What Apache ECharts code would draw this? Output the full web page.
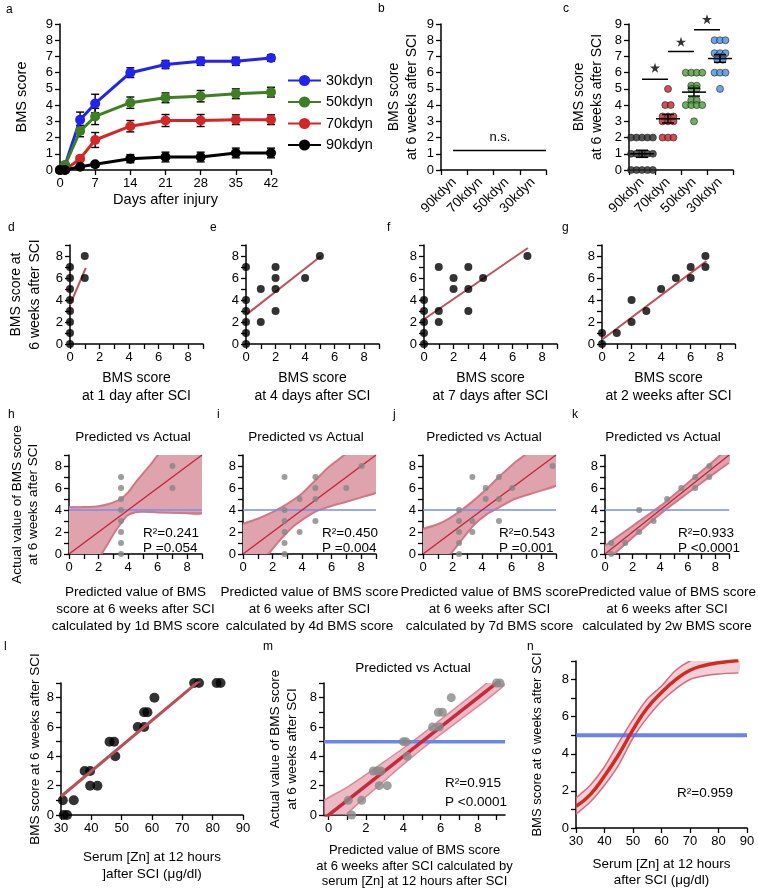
<!DOCTYPE html>
<html lang="en">
<head>
<meta charset="UTF-8">
<title>BMS score after SCI</title>
<script src="https://cdn.jsdelivr.net/npm/echarts@6/dist/echarts.min.js"></script>
<style>html,body{margin:0;padding:0;background:#fff;}</style>
</head>
<body>
<div id="main" style="width:758px;height:892px;"></div>
<script>
var FONT = "'Liberation Sans', Arial, Helvetica, sans-serif";

// ---- a: time course
var days = [0, 1, 4, 7, 14, 21, 28, 35, 42];
var forces = ['30kdyn', '50kdyn', '70kdyn', '90kdyn'];
var forceColors = ['#2323f0', '#3d7f21', '#d42626', '#000000'];
var bms30 = [0, 0.3, 3.1, 4.1, 6.0, 6.5, 6.7, 6.7, 6.9];
var bms50 = [0, 0.3, 2.4, 3.3, 4.15, 4.45, 4.55, 4.7, 4.8];
var bms70 = [0, 0, 0.7, 1.85, 2.7, 3.05, 3.05, 3.1, 3.1];
var bms90 = [0, 0, 0.2, 0.35, 0.7, 0.8, 0.8, 1.05, 1.05];
var sem30 = [0, 0.1, 0.47, 0.57, 0.3, 0.25, 0.25, 0.25, 0.2];
var sem50 = [0, 0.1, 0.35, 0.5, 0.35, 0.3, 0.35, 0.3, 0.3];
var sem70 = [0, 0, 0.15, 0.46, 0.35, 0.37, 0.37, 0.3, 0.3];
var sem90 = [0, 0, 0.1, 0.15, 0.25, 0.3, 0.3, 0.3, 0.3];

// ---- b / c: 6 week scores
var impacts = ['90kdyn', '70kdyn', '50kdyn', '30kdyn'];
var nsLine = [[0.46, 1.2], [4, 1.2]];
var wk6_90 = [2, 2, 2, 2, 2, 1, 1, 1, 1, 1, 0, 0, 0, 0, 0];
var wk6_70 = [5, 4, 4, 3.3, 3.3, 3.3, 3, 3, 3, 2, 2, 2];
var wk6_50 = [6, 6, 6, 6, 5.2, 5.2, 5, 5, 4.3, 4.3, 4, 4, 4, 4, 3];
var wk6_30 = [8, 8, 8, 7.2, 7.2, 7.2, 7, 7, 6.8, 6.8, 6, 6, 6, 5];
var dotColors = ['#2b2b2b', '#c4222c', '#4c9a3a', '#4a8fdd'];
var sigLevels = [5.6, 7.3, 8.65];
var starLevels = [6.3, 7.9, 9.3];

// ---- d-g: early score vs 6 week score
var d1X = [0, 0, 0, 0, 0, 0, 0, 0, 1, 1];
var d1Y = [7, 6, 5, 4, 3, 2, 1, 0, 8, 6];
var d4X = [0, 0, 0, 0, 0, 0, 1, 1, 2, 2, 2, 2, 4, 5];
var d4Y = [7, 4, 3, 2, 1, 0, 5, 2, 7, 6, 5, 3, 6, 8];
var d7X = [0, 0, 0, 0, 0, 1, 1, 1, 2, 2, 3, 3, 3, 4, 7];
var d7Y = [4, 3, 2, 1, 0, 7, 3, 2, 6, 5, 7, 5, 3, 6, 8];
var w2X = [0, 0, 1, 2, 2, 3, 4, 5, 6, 6, 7, 7];
var w2Y = [1, 0, 1, 4, 2, 3, 5, 6, 7, 6, 8, 7];
var fit1d = [[0, 3.55], [1.07, 6.93]];
var fit4d = [[0, 2.65], [5.06, 7.98]];
var fit7d = [[0, 2.25], [7.03, 8.73]];
var fit2w = [[0, 0.39], [7.07, 7.53]];

// ---- h-k: predicted vs actual
var p1dX = [3.52, 3.52, 3.52, 3.52, 3.52, 3.52, 3.52, 3.52, 7.0, 7.0];
var p1dY = [7, 6, 5, 4, 3, 2, 1, 0, 8, 6];
var p4dX = [2.81, 2.81, 2.81, 2.81, 2.81, 2.81, 3.83, 3.83, 4.9, 4.9, 4.9, 4.9, 6.99, 8.03];
var p4dY = [7, 4, 3, 2, 1, 0, 5, 2, 7, 6, 5, 3, 6, 8];
var p7dX = [2.44, 2.44, 2.44, 2.44, 2.44, 3.34, 3.34, 3.34, 4.24, 4.24, 5.14, 5.14, 5.14, 6.04, 8.77];
var p7dY = [4, 3, 2, 1, 0, 7, 3, 2, 6, 5, 7, 5, 3, 6, 8];
var p2wX = [0.45, 0.45, 1.47, 2.48, 2.48, 3.52, 4.5, 5.53, 6.54, 6.54, 7.56, 7.56];
var p2wY = [1, 0, 1, 4, 2, 3, 5, 6, 7, 6, 8, 7];
var band1dUp = [[0, 4.24], [1, 4.27], [2, 4.35], [2.7, 4.55], [3.2, 4.8], [3.5, 5.0], [4, 5.6], [4.5, 6.5], [5, 7.3], [5.5, 8.1], [6.1, 9.15], [7, 10.6], [9, 13.5]];
var band1dLo = [[0, -4], [1, -2.3], [2.2, 0], [2.7, 1.1], [3.1, 2.0], [3.5, 2.75], [3.95, 3.5], [4.5, 3.8], [5, 3.85], [6, 3.78], [7.5, 3.72], [9, 3.7]];
var band4dUp = [[0, 2.73], [1, 3.2], [2, 3.8], [2.8, 4.4], [3.5, 5.0], [4, 5.5], [4.9, 6.7], [5.8, 7.9], [7, 9.15], [8, 10.4], [9, 11.6]];
var band4dLo = [[0, -1.7], [1, -0.75], [1.7, 0], [2.3, 0.95], [2.8, 1.7], [3.4, 2.5], [4, 3.1], [4.9, 3.85], [5.8, 4.3], [7, 4.75], [8, 5.15], [9, 5.55]];
var band7dUp = [[0, 2.27], [1, 2.7], [1.7, 3.17], [2.4, 3.78], [3.4, 4.83], [4.3, 5.9], [5.1, 6.95], [6.2, 8.3], [7.1, 9.2], [8, 10.3], [9, 11.4]];
var band7dLo = [[0, -1.9], [1, -0.9], [1.85, 0], [2.4, 0.9], [3.4, 2.57], [4.3, 3.6], [5.1, 4.2], [6.2, 5.0], [7.6, 5.6], [9, 6.2]];
var band2wUp = [[0, 0.75], [2, 2.55], [4, 4.35], [6, 6.45], [8, 8.6], [9, 9.7]];
var band2wLo = [[0, -0.75], [2, 1.5], [4, 3.65], [6, 5.55], [8, 7.4], [9, 8.3]];
var identity = [[0, 0], [9, 9]];
var meanLine4 = [[0, 4], [9, 4]];
var r2Texts = ['0.241', '0.450', '0.543', '0.933'];
var pTexts = ['=0.054', '=0.004', '=0.001', '<0.0001'];

// ---- l-n: serum zinc
var znX = [30.6, 34.2, 30.9, 32.0, 37.8, 39.6, 39.6, 42.0, 46.0, 47.5, 47.9, 55.3, 57.4, 57.4, 58.5, 60.8, 73.9, 75.5, 81.3, 82.6];
var znY = [1, 1, 0, 0, 3, 3, 2, 2, 5, 5, 4, 6, 6, 7, 7, 8, 9, 9, 9, 9];
var znFit = [[30, 1.26], [76.5, 9.3]];
var predZnX = [1.05, 1.23, 1.77, 2.39, 2.6, 2.8, 2.71, 3.14, 4.0, 4.14, 4.21, 5.57, 5.88, 6.1, 5.93, 6.57, 9.0, 9.18];
var predZnY = [1, 0, 1, 3, 3, 3, 2, 2, 5, 5, 4, 6, 7, 7, 6, 8, 9, 9];
var bandZnUp = [[-0.25, 1.0], [1, 1.9], [2, 2.75], [3, 3.65], [4, 4.55], [5, 5.5], [6, 6.5], [7, 7.5], [8, 8.5], [9, 9.55], [9.45, 10.0]];
var bandZnLo = [[-0.25, -1.5], [1, 0.1], [2, 1.25], [3, 2.35], [4, 3.45], [5, 4.5], [6, 5.5], [7, 6.45], [8, 7.4], [9, 8.4], [9.45, 8.9]];
var identityZn = [[-0.25, -0.25], [9.45, 9.45]];
var meanLine5 = [[-0.25, 5], [9.45, 5]];
var sigmoidMid = [[30, 1.17], [35, 1.8], [40, 2.8], [45, 3.96], [50, 5.3], [55, 6.47], [60, 7.3], [65, 8.0], [70, 8.5], [75, 8.76], [80, 8.9], [87, 9.03]];
var sigmoidUp = [[30, 1.62], [35, 2.3], [40, 3.3], [45, 4.6], [50, 5.85], [55, 6.95], [60, 7.65], [65, 8.5], [70, 9.0], [75, 9.25], [80, 9.35], [87, 9.4]];
var sigmoidLo = [[30, 0.75], [35, 1.4], [40, 2.3], [45, 3.4], [50, 4.85], [55, 5.95], [60, 6.83], [65, 7.5], [70, 8.0], [75, 8.2], [80, 8.3], [87, 8.36]];
var znMeanLine = [[30, 5], [90, 5]];

function zip(xs, ys) { return xs.map(function (x, i) { return [x, ys[i]]; }); }
function evenOnly(v) { return v % 2 === 0 ? String(v) : ''; }

function valAxis(gi, min, max, step, o) {
  o = o || {};
  return {
    type: 'value', gridIndex: gi, min: min, max: max, interval: step,
    show: o.show !== false,
    name: o.name || '', nameLocation: 'middle', nameGap: o.gap || 20,
    nameTextStyle: { fontSize: o.nameSize || 13.5, lineHeight: o.lh || 16, color: '#000', fontFamily: FONT },
    axisLine: { show: true, onZero: false, lineStyle: { color: '#000', width: 1.5 } },
    axisTick: { show: true, length: 5, lineStyle: { color: '#000', width: 1.3 }, customValues: o.ticks },
    axisLabel: { color: '#000', fontSize: 13, fontFamily: FONT, margin: 7, formatter: o.even ? evenOnly : null, customValues: o.labels },
    splitLine: { show: false }
  };
}
function catAxis(gi) {
  return {
    type: 'category', gridIndex: gi, data: impacts, boundaryGap: true,
    axisLine: { show: true, lineStyle: { color: '#000', width: 1.5 } },
    axisTick: { show: true, length: 5, lineStyle: { color: '#000', width: 1.3 } },
    axisLabel: { color: '#000', fontSize: 13.5, fontFamily: FONT, rotate: 45, margin: 10, interval: 0 },
    splitLine: { show: false }
  };
}

var grids = [
  { left: 60, top: 24, width: 211, height: 146 },
  { left: 441, top: 24, width: 105, height: 146 },
  { left: 629, top: 24, width: 104, height: 146 },
  { left: 70, top: 245, width: 133, height: 99 },
  { left: 246, top: 245, width: 133, height: 99 },
  { left: 424, top: 245, width: 133, height: 99 },
  { left: 602, top: 245, width: 133, height: 99 },
  { left: 69, top: 455, width: 133, height: 99 },
  { left: 243, top: 455, width: 133, height: 99 },
  { left: 423, top: 455, width: 133, height: 99 },
  { left: 605, top: 455, width: 133, height: 99 },
  { left: 61, top: 683, width: 182, height: 132 },
  { left: 324, top: 683, width: 181, height: 132 },
  { left: 576, top: 661, width: 171, height: 167 }
];

var dgNames = ['BMS score\nat 1 day after SCI', 'BMS score\nat 4 days after SCI', 'BMS score\nat 7 days after SCI', 'BMS score\nat 2 weeks after SCI'];
var hkNames = [
  'Predicted value of BMS\nscore at 6 weeks after SCI\ncalculated by 1d BMS score',
  'Predicted value of BMS score\nat 6 weeks after SCI\ncalculated by 4d BMS score',
  'Predicted value of BMS score\nat 6 weeks after SCI\ncalculated by 7d BMS score',
  'Predicted value of BMS score\nat 6 weeks after SCI\ncalculated by 2w BMS score'
];

var xAxes = [
  valAxis(0, 0, 42, 7, { name: 'Days after injury', gap: 22, nameSize: 14.5 }),
  catAxis(1),
  catAxis(2)
];
var yAxes = [
  valAxis(0, 0, 9, 1, { name: 'BMS score', gap: 30, nameSize: 14.5 }),
  valAxis(1, 0, 9, 1, { name: 'BMS score\nat 6 weeks after SCI', gap: 20, lh: 18, nameSize: 14 }),
  valAxis(2, 0, 9, 1, { name: 'BMS score\nat 6 weeks after SCI', gap: 23, lh: 18, nameSize: 14 })
];
for (var q = 0; q < 4; q++) {
  xAxes.push(valAxis(3 + q, 0, 9, 1, { even: true, name: dgNames[q], gap: 25, lh: 18, nameSize: 14 }));
  yAxes.push(valAxis(3 + q, 0, 9, 1, { even: true, name: q === 0 ? 'BMS score at\n6 weeks after SCI' : '', gap: 25, lh: 19, nameSize: 14 }));
}
for (q = 0; q < 4; q++) {
  xAxes.push(valAxis(7 + q, 0, 9, 1, { even: true, name: hkNames[q], gap: 30, lh: 17 }));
  yAxes.push(valAxis(7 + q, 0, 9, 1, { even: true, name: q === 0 ? 'Actual value of BMS score\nat 6 weeks after SCI' : '', gap: 28, lh: 16 }));
}
xAxes.push(valAxis(11, 30, 90, 10, { name: 'Serum [Zn] at 12 hours\n]after SCI (\u03bcg/dl)', gap: 34, lh: 17 }));
yAxes.push(valAxis(11, 0, 9, 1, { even: true, name: 'BMS score at 6 weeks after SCI', gap: 18 }));
xAxes.push(valAxis(12, -0.25, 9.45, null, { ticks: [0, 1, 2, 3, 4, 5, 6, 7, 8, 9], labels: [0, 2, 4, 6, 8], name: 'Predicted value of BMS score\nat 6 weeks after SCI calculated by\nserum [Zn] at 12 hours after SCI', gap: 28, lh: 15.5, nameSize: 13 }));
yAxes.push(valAxis(12, 0, 9, 1, { even: true, name: 'Actual value of BMS score\nat 6 weeks after SCI', gap: 23, lh: 17 }));
xAxes.push(valAxis(13, 30, 90, 10, { name: 'Serum [Zn] at 12 hours\nafter SCI (\u03bcg/dl)', gap: 29, lh: 15.5 }));
yAxes.push(valAxis(13, 0, 9, 1, { even: true, name: 'BMS score at 6 weeks after SCI', gap: 31, nameSize: 13 }));
// hidden value axes for b (14) and c (15)
xAxes.push(valAxis(1, 0, 4, 1, { show: false }));
xAxes.push(valAxis(2, -0.5, 3.5, 1, { show: false }));

var series = [];

// a
var aMeans = [bms30, bms50, bms70, bms90];
var aSems = [sem30, sem50, sem70, sem90];
function errorBars(gi, xs, ys, es) {
  return {
    type: 'custom', xAxisIndex: gi, yAxisIndex: gi, silent: true, z: 1,
    data: xs.map(function (x, i) { return [x, ys[i], es[i]]; }),
    renderItem: function (params, api) {
      var x = api.value(0), y = api.value(1), e = api.value(2);
      if (!e) return { type: 'group', children: [] };
      var t = api.coord([x, y + e]), b = api.coord([x, y - e]);
      var st = { stroke: '#000', lineWidth: 1.4 };
      return { type: 'group', children: [
        { type: 'line', shape: { x1: t[0], y1: t[1], x2: b[0], y2: b[1] }, style: st },
        { type: 'line', shape: { x1: t[0] - 4, y1: t[1], x2: t[0] + 4, y2: t[1] }, style: st },
        { type: 'line', shape: { x1: b[0] - 4, y1: b[1], x2: b[0] + 4, y2: b[1] }, style: st }
      ] };
    }
  };
}
for (q = 0; q < 4; q++) {
  series.push(errorBars(0, days, aMeans[q], aSems[q]));
}
for (q = 0; q < 4; q++) {
  series.push({
    name: forces[q], type: 'line', xAxisIndex: 0, yAxisIndex: 0, z: 3,
    data: zip(days, aMeans[q]), symbol: 'circle', symbolSize: 10,
    itemStyle: { color: forceColors[q] }, lineStyle: { color: forceColors[q], width: 3 }
  });
}

// b
series.push({ type: 'line', xAxisIndex: 14, yAxisIndex: 1, data: nsLine, symbol: 'none', lineStyle: { color: '#000', width: 1.5 } });

// c
function swarm(values, center, step) {
  var counts = {}, seen = {};
  values.forEach(function (v) { counts[v] = (counts[v] || 0) + 1; });
  return values.map(function (v) {
    var k = seen[v] || 0; seen[v] = k + 1;
    return [center + (k - (counts[v] - 1) / 2) * step, v];
  });
}
var cGroups = [wk6_90, wk6_70, wk6_50, wk6_30];
var cStats = cGroups.map(function (v, i) {
  var n = v.length, m = v.reduce(function (a, b) { return a + b; }, 0) / n;
  var sd = Math.sqrt(v.reduce(function (a, b) { return a + (b - m) * (b - m); }, 0) / (n - 1));
  return [i, m, sd / Math.sqrt(n)];
});
cGroups.forEach(function (v, i) {
  series.push({
    type: 'scatter', xAxisIndex: 15, yAxisIndex: 2, z: 2, data: swarm(v, i, 0.21), symbolSize: 7,
    itemStyle: { color: dotColors[i], borderColor: '#1a1a1a', borderWidth: 0.7 }
  });
});
series.push({
  type: 'custom', xAxisIndex: 15, yAxisIndex: 2, z: 5, silent: true, data: cStats,
  renderItem: function (params, api) {
    var c = api.coord([api.value(0), api.value(1)]);
    var t = api.coord([api.value(0), api.value(1) + api.value(2)]);
    var b = api.coord([api.value(0), api.value(1) - api.value(2)]);
    var st = { stroke: '#000', lineWidth: 1.5 };
    return { type: 'group', children: [
      { type: 'line', shape: { x1: c[0] - 12, y1: c[1], x2: c[0] + 12, y2: c[1] }, style: st },
      { type: 'line', shape: { x1: t[0], y1: t[1], x2: b[0], y2: b[1] }, style: st },
      { type: 'line', shape: { x1: t[0] - 6, y1: t[1], x2: t[0] + 6, y2: t[1] }, style: st },
      { type: 'line', shape: { x1: b[0] - 6, y1: b[1], x2: b[0] + 6, y2: b[1] }, style: st }
    ] };
  }
});
sigLevels.forEach(function (s, i) {
  series.push({ type: 'line', xAxisIndex: 15, yAxisIndex: 2, data: [[i, s], [i + 1, s]], symbol: 'none', lineStyle: { color: '#000', width: 1.5 } });
});
series.push({
  type: 'scatter', xAxisIndex: 15, yAxisIndex: 2, clip: false, symbolSize: 10,
  symbol: 'path://M12,0L14.9,8.6L24,8.6L16.7,14L19.4,22.7L12,17.3L4.6,22.7L7.3,14L0,8.6L9.1,8.6Z',
  data: starLevels.map(function (s, i) { return [i + 0.5, s]; }), itemStyle: { color: '#000' }
});

// d-g
var dgX = [d1X, d4X, d7X, w2X], dgY = [d1Y, d4Y, d7Y, w2Y], dgFit = [fit1d, fit4d, fit7d, fit2w];
for (q = 0; q < 4; q++) {
  series.push({ type: 'line', xAxisIndex: 3 + q, yAxisIndex: 3 + q, data: dgFit[q], symbol: 'none', z: 2, lineStyle: { color: '#c0505c', width: 2 } });
  series.push({ type: 'scatter', xAxisIndex: 3 + q, yAxisIndex: 3 + q, data: zip(dgX[q], dgY[q]), symbolSize: 8, clip: false, z: 3, itemStyle: { color: '#000' } });
}

// bands
function bandSeries(gi, up, lo, fill, edge, edgeW) {
  return {
    type: 'custom', xAxisIndex: gi, yAxisIndex: gi, clip: true, silent: true, z: 1,
    data: [up[0]],
    renderItem: function (params, api) {
      var u = up.map(function (p) { return api.coord(p); });
      var l = lo.map(function (p) { return api.coord(p); });
      var poly = u.concat(l.slice().reverse());
      return { type: 'group', children: [
        { type: 'polygon', shape: { points: poly, smooth: 0.25 }, style: { fill: fill } },
        { type: 'polyline', shape: { points: u, smooth: 0.25 }, style: { stroke: edge, lineWidth: edgeW, fill: null } },
        { type: 'polyline', shape: { points: l, smooth: 0.25 }, style: { stroke: edge, lineWidth: edgeW, fill: null } }
      ] };
    }
  };
}

// h-k
var hkX = [p1dX, p4dX, p7dX, p2wX], hkY = [p1dY, p4dY, p7dY, p2wY];
var hkUp = [band1dUp, band4dUp, band7dUp, band2wUp], hkLo = [band1dLo, band4dLo, band7dLo, band2wLo];
for (q = 0; q < 4; q++) {
  var gi = 7 + q;
  series.push(bandSeries(gi, hkUp[q], hkLo[q], '#dfa3ae', '#d27786', 2));
  series.push({ type: 'line', xAxisIndex: gi, yAxisIndex: gi, data: meanLine4, symbol: 'none', z: 2, lineStyle: { color: '#6f8ff2', width: 1.5 } });
  series.push({ type: 'line', xAxisIndex: gi, yAxisIndex: gi, data: identity, symbol: 'none', z: 3, lineStyle: { color: '#c3283c', width: 1.5 } });
  series.push({ type: 'scatter', xAxisIndex: gi, yAxisIndex: gi, data: zip(hkX[q], hkY[q]), symbolSize: 6, clip: false, z: 4, itemStyle: { color: '#858585' } });
}

// l
series.push({ type: 'scatter', xAxisIndex: 11, yAxisIndex: 11, data: zip(znX, znY), symbolSize: 10, clip: false, z: 2, itemStyle: { color: '#000' } });
series.push({ type: 'line', xAxisIndex: 11, yAxisIndex: 11, data: znFit, symbol: 'none', z: 3, lineStyle: { color: '#b8505a', width: 3 } });

// m
series.push(bandSeries(12, bandZnUp, bandZnLo, 'rgba(222,140,158,0.6)', '#d98a9a', 1.5));
series.push({ type: 'line', xAxisIndex: 12, yAxisIndex: 12, data: meanLine5, symbol: 'none', z: 2, lineStyle: { color: '#6a88ea', width: 3.5 } });
series.push({ type: 'line', xAxisIndex: 12, yAxisIndex: 12, data: identityZn, symbol: 'none', z: 3, lineStyle: { color: '#c8283c', width: 3.5 } });
series.push({ type: 'scatter', xAxisIndex: 12, yAxisIndex: 12, data: zip(predZnX, predZnY), symbolSize: 9, clip: false, z: 4, itemStyle: { color: '#888888' } });

// n
series.push(bandSeries(13, sigmoidUp, sigmoidLo, 'rgba(232,170,185,0.55)', '#d66a7a', 1.5));
series.push({ type: 'line', xAxisIndex: 13, yAxisIndex: 13, data: znMeanLine, symbol: 'none', z: 2, lineStyle: { color: 'rgba(80,110,230,0.85)', width: 4 } });
series.push({ type: 'line', xAxisIndex: 13, yAxisIndex: 13, data: sigmoidMid, smooth: true, symbol: 'none', z: 3, lineStyle: { color: '#d42a1e', width: 3.5 } });

// texts
function txt(x, y, s, size, align) {
  return { type: 'text', x: x, y: y, silent: true,
    style: { text: s, fill: '#000', font: size + 'px ' + FONT, textAlign: align || 'left', align: align || 'left', textVerticalAlign: 'middle', verticalAlign: 'middle' } };
}
var texts = [
  txt(6, 10, 'a', 12), txt(378, 9, 'b', 12), txt(563, 9, 'c', 12),
  txt(8, 228, 'd', 12), txt(210, 228, 'e', 12), txt(387, 228, 'f', 12), txt(562, 228, 'g', 12),
  txt(8, 415, 'h', 12), txt(217, 415, 'i', 12), txt(393, 415, 'j', 12), txt(572, 415, 'k', 12),
  txt(4, 647, 'l', 12), txt(263, 647, 'm', 12), txt(527, 647, 'n', 12),
  txt(500, 137, 'n.s.', 13, 'center')
];
var titleX = [133, 306, 484, 663];
var statX = [143, 322, 499, 678];
for (q = 0; q < 4; q++) {
  texts.push(txt(titleX[q], 437, 'Predicted vs Actual', 13.5, 'center'));
  texts.push(txt(statX[q], 533, 'R\u00b2=' + r2Texts[q], 13.5));
  texts.push(txt(statX[q], 548, 'P ' + pTexts[q], 13.5));
}
texts.push(txt(413, 668, 'Predicted vs Actual', 13.5, 'center'));
texts.push(txt(445, 783, 'R\u00b2=0.915', 13.5));
texts.push(txt(445, 802, 'P <0.0001', 13.5));
texts.push(txt(677, 793, 'R\u00b2=0.959', 13.5));

var chart = echarts.init(document.getElementById('main'));
chart.setOption({
  animation: false,
  backgroundColor: '#fff',
  textStyle: { fontFamily: FONT, color: '#000' },
  legend: {
    data: forces, orient: 'vertical', left: 282, top: 68,
    itemWidth: 33, itemHeight: 14, itemGap: 6.5,
    textStyle: { fontSize: 14.5, color: '#000', fontFamily: FONT, lineHeight: 14 }
  },
  grid: grids,
  xAxis: xAxes,
  yAxis: yAxes,
  series: series,
  graphic: { elements: texts }
});
</script>
</body>
</html>
